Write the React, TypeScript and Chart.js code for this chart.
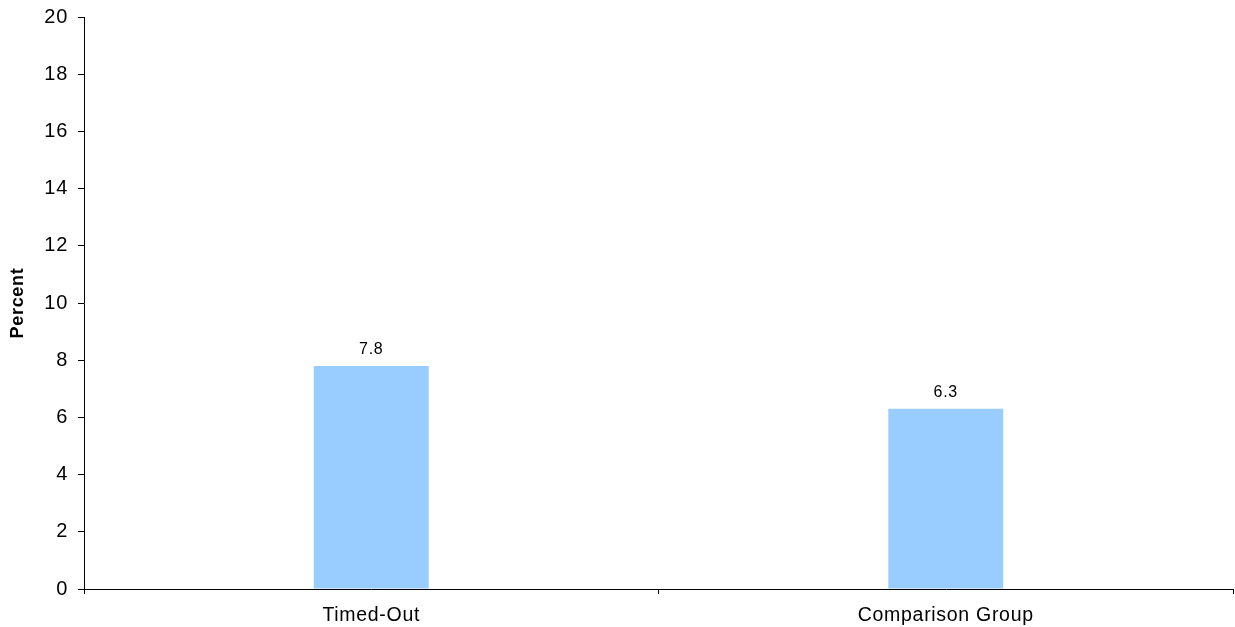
import React, { useEffect, useRef } from "react";
import { Chart, registerables } from "chart.js";

Chart.register(...registerables);

const categories = ["Timed-Out", "Comparison Group"];
const values = [7.8, 6.3];
const yTicks = [0, 2, 4, 6, 8, 10, 12, 14, 16, 18, 20];

const FONT = "'Liberation Sans', Arial, sans-serif";

const spacing = {
  id: "spacing",
  beforeInit(chart: any) {
    chart.ctx.letterSpacing = "0.7px";
  },
  beforeDraw(chart: any) {
    chart.ctx.letterSpacing = "0.7px";
  },
};

const valueLabels = {
  id: "valueLabels",
  afterDatasetsDraw(chart: any) {
    const ctx = chart.ctx;
    const meta = chart.getDatasetMeta(0);
    ctx.save();
    ctx.letterSpacing = "0.7px";
    ctx.font = `16px ${FONT}`;
    ctx.fillStyle = "#000";
    ctx.textAlign = "center";
    ctx.textBaseline = "bottom";
    meta.data.forEach((bar: any, i: number) => {
      ctx.fillText(values[i].toFixed(1), bar.x, bar.y - 8);
    });
    ctx.restore();
  },
};

export default function App() {
  const ref = useRef<HTMLCanvasElement | null>(null);
  useEffect(() => {
    if (!ref.current) return;
    const chart = new Chart(ref.current, {
      type: "bar",
      data: {
        labels: categories,
        datasets: [
          {
            data: values,
            backgroundColor: "#99CCFF",
            borderWidth: 0,
            categoryPercentage: 1,
            barPercentage: 0.2,
          },
        ],
      },
      options: {
        animation: false,
        responsive: false,
        maintainAspectRatio: false,
        layout: { padding: { top: 17, right: 2, bottom: 0, left: 0 } },
        plugins: {
          legend: { display: false },
          tooltip: { enabled: false },
          title: { display: false },
        },
        scales: {
          x: {
            grid: {
              display: true,
              drawOnChartArea: false,
              drawTicks: true,
              tickLength: 5,
              color: "#000",
              offset: true,
            },
            border: { display: true, color: "#000", width: 1 },
            ticks: {
              color: "#000",
              font: { family: FONT, size: 19.5 },
              padding: 10,
            },
            afterFit(scale: any) {
              scale.height = 38;
            },
          },
          y: {
            min: 0,
            max: 20,
            afterBuildTicks(scale: any) {
              scale.ticks = yTicks.map((v) => ({ value: v }));
            },
            grid: {
              display: true,
              drawOnChartArea: false,
              drawTicks: true,
              tickLength: 6,
              color: "#000",
            },
            border: { display: true, color: "#000", width: 1 },
            ticks: {
              color: "#000",
              font: { family: FONT, size: 20 },
              padding: 10,
            },
            title: {
              display: true,
              text: "Percent",
              color: "#000",
              font: { family: FONT, size: 18, weight: "bold" },
              padding: { top: 7, bottom: 0 },
            },
            afterFit(scale: any) {
              scale.width = 84;
              scale.paddingTop = 0;
              scale.paddingBottom = 0;
            },
          },
        },
      },
      plugins: [spacing, valueLabels],
    });
    return () => chart.destroy();
  }, []);
  return (
    <div style={{ position: "fixed", left: 0, top: 0, width: 1235, height: 627, background: "#fff" }}>
      <canvas ref={ref} width={1235} height={627} style={{ display: "block" }} />
    </div>
  );
}
